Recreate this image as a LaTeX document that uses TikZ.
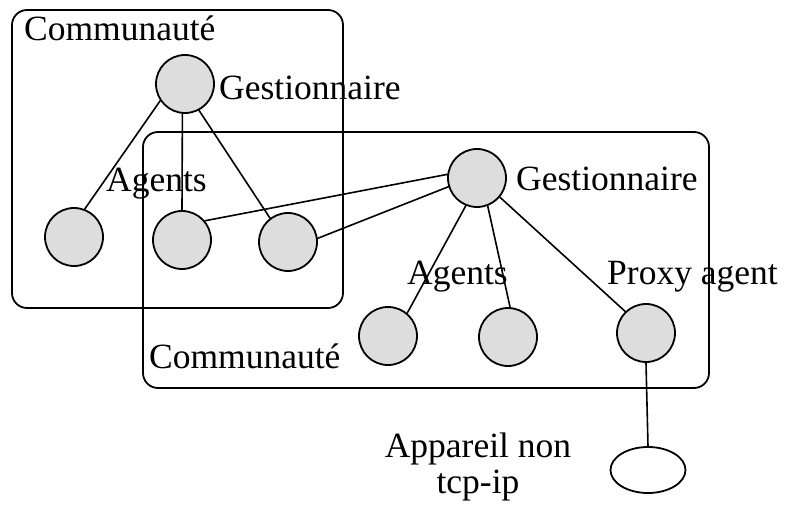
\documentclass[tikz,border=0pt]{standalone}
\usepackage{fontspec}
\setmainfont{Liberation Serif}
\usetikzlibrary{shapes.geometric}
\definecolor{nodegray}{RGB}{221,221,221}

\begin{document}
\begin{tikzpicture}[x=1pt,y=-1pt,line cap=round,line join=round,
  agent/.style={circle,draw,line width=1.8pt,fill=nodegray,minimum size=58pt,inner sep=0pt},
  device/.style={ellipse,draw,line width=1.8pt,minimum width=75pt,minimum height=46pt,inner sep=0pt},
  word/.style={anchor=base west,inner sep=0pt,font=\fontsize{35.5}{36}\selectfont},
  community/.style={draw,line width=1.8pt,rounded corners=15pt}]
  \useasboundingbox (0,0) rectangle (785,505);
  \draw[community] (12,10) rectangle (343,308);
  \draw[community] (143,132) rectangle (709,388);

  \node[agent] (g1) at (185,84) {};
  \node[agent] (a1) at (74,237) {};
  \node[agent] (a2) at (182,240) {};
  \node[agent] (a3) at (288,242) {};
  \node[agent] (g2) at (477,178) {};
  \node[agent] (b1) at (388,336) {};
  \node[agent] (b2) at (508,337) {};
  \node[agent] (proxy) at (646,333) {};
  \node[device] (dev) at (648,470) {};

  \draw[line width=1.6pt] (g1.214) -- (a1.69);
  \draw[line width=1.6pt] (g1.265) -- (a2.90);
  \draw[line width=1.6pt] (g1.298) -- (a3.127);
  \draw[line width=1.6pt] (g2.173) -- (a2.40);
  \draw[line width=1.6pt] (g2.197) -- (a3.7);
  \draw[line width=1.6pt] (g2.248) -- (b1.50);
  \draw[line width=1.6pt] (g2.291) -- (b2.86);
  \draw[line width=1.6pt] (g2.320) -- (proxy.134);
  \draw[line width=1.6pt] (proxy.south) -- (dev.north);

  \node[word] (c1) at (24,41) {Communauté};
  \node[word] (lg1) at (219,100) {Gestionnaire};
  \node[word] (la1) at (106,192) {Agents};
  \node[word] (lg2) at (516,191) {Gestionnaire};
  \node[word] (la2) at (407,285) {Agents};
  \node[word] (lp) at (607,285) {Proxy agent};
  \node[word] (c2) at (149,368) {Communauté};
  \node[word,anchor=base,align=center] (ldev) at (478,493) {Appareil non\\tcp-ip};
\end{tikzpicture}
\end{document}
